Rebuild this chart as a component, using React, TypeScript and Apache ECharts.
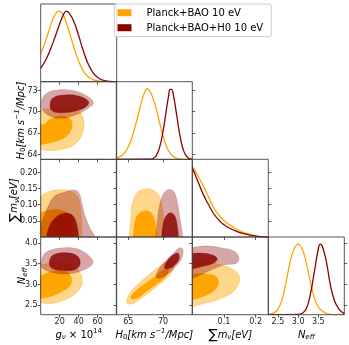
import React, { useEffect, useRef } from 'react';
import * as echarts from 'echarts';

// ---------- axis ranges and ticks ----------
const gRange = [0, 80];
const h0Range = [63.28, 74.2];
const sumRange = [0, 0.24];
const neffRange = [2.26, 4.145];

const gTicks = [20, 40, 60];
const h0TicksX = [65, 70];
const h0TicksY = [64, 67, 70, 73];
const sumTicksX = [0.1, 0.2];
const sumTicksY = [0.05, 0.1, 0.15, 0.2];
const neffTicksX = [2.5, 3.0, 3.5];
const neffTicksY = [2.5, 3.0, 3.5, 4.0];

const legendNames = ['Planck+BAO 10 eV', 'Planck+BAO+H0 10 eV'];

// ---------- 1D marginals (normalised to peak 1) ----------
const gOrange = [[0, 0.40], [5, 0.57], [10, 0.78], [15, 0.95], [19, 1.0], [22, 0.98], [25, 0.91], [30, 0.71], [35, 0.48], [40, 0.29], [45, 0.15], [50, 0.07], [55, 0.03], [60, 0.012], [65, 0.004], [70, 0.001], [80, 0]];
const gDarkred = [[0, 0.19], [5, 0.30], [10, 0.45], [15, 0.63], [20, 0.82], [24, 0.95], [27, 1.0], [30, 0.97], [35, 0.85], [40, 0.65], [45, 0.43], [50, 0.25], [55, 0.13], [60, 0.06], [65, 0.024], [70, 0.008], [75, 0.002], [80, 0]];
const h0Orange = [[63.3, 0.015], [64, 0.05], [64.5, 0.1], [65, 0.18], [65.5, 0.3], [66, 0.47], [66.5, 0.66], [67, 0.85], [67.4, 0.96], [67.7, 1.0], [68, 0.98], [68.5, 0.88], [69, 0.72], [69.5, 0.52], [70, 0.33], [70.5, 0.18], [71, 0.09], [71.5, 0.04], [72, 0.015], [72.5, 0.005], [73, 0.001], [74.2, 0]];
const h0Darkred = [[63.3, 0], [68, 0.002], [68.5, 0.012], [69, 0.05], [69.5, 0.17], [70, 0.4], [70.5, 0.72], [70.8, 0.9], [71.0, 0.99], [71.2, 0.99], [71.5, 0.9], [72, 0.6], [72.5, 0.3], [73, 0.11], [73.5, 0.03], [74, 0.006], [74.2, 0.003]];
const sumOrange = [[0, 1.0], [0.01, 0.93], [0.02, 0.85], [0.035, 0.72], [0.05, 0.58], [0.066, 0.43], [0.08, 0.33], [0.098, 0.24], [0.12, 0.165], [0.14, 0.11], [0.155, 0.078], [0.172, 0.05], [0.19, 0.027], [0.205, 0.013], [0.22, 0.005], [0.24, 0]];
const sumDarkred = [[0, 0.98], [0.01, 0.87], [0.02, 0.76], [0.035, 0.6], [0.05, 0.47], [0.066, 0.34], [0.08, 0.26], [0.098, 0.18], [0.12, 0.12], [0.14, 0.08], [0.155, 0.057], [0.172, 0.036], [0.19, 0.02], [0.205, 0.01], [0.22, 0.004], [0.24, 0]];
const neffOrange = [[2.26, 0.003], [2.4, 0.025], [2.5, 0.08], [2.6, 0.21], [2.7, 0.46], [2.8, 0.74], [2.9, 0.93], [3.0, 1.0], [3.1, 0.93], [3.2, 0.74], [3.3, 0.47], [3.4, 0.24], [3.5, 0.11], [3.6, 0.05], [3.7, 0.02], [3.8, 0.006], [3.9, 0.001], [4.145, 0]];
const neffDarkred = [[2.26, 0], [3.0, 0.003], [3.1, 0.02], [3.2, 0.08], [3.3, 0.28], [3.4, 0.6], [3.5, 0.93], [3.55, 1.0], [3.6, 0.97], [3.7, 0.75], [3.8, 0.42], [3.9, 0.2], [4.0, 0.09], [4.1, 0.03], [4.145, 0.015]];

// ---------- 2D contours (outer = 95%, inner = 68%) ----------
// g vs H0
const gH0OrangeOuter = [[-6, 70.1], [1, 70.25], [15, 70.5], [29, 70.45], [40, 70.1], [45, 68.8], [44, 67.0], [37, 65.5], [26, 64.8], [12, 64.55], [1, 64.65], [-6, 64.8]];
const gH0OrangeInner = [[-6, 68.0], [3, 68.15], [10, 68.9], [18.6, 69.3], [29, 69.15], [33, 68.35], [31, 67.2], [24, 66.25], [13, 65.75], [1, 65.4], [-6, 65.3]];
const gH0RedOuter = [[0.3, 71.0], [2, 71.9], [5.5, 72.5], [13.3, 72.95], [29, 73.05], [43, 72.6], [55.5, 71.3], [48.7, 70.36], [34.5, 69.42], [20.4, 69.06], [8, 69.5], [1.5, 70.3]];
const gH0RedInner = [[9.8, 71.0], [13.3, 71.95], [25.7, 72.33], [39.8, 72.19], [50.4, 71.39], [46.9, 70.6], [36.3, 70.08], [22.2, 69.85], [12.3, 70.08]];
// g vs sum m_nu
const gSumOrangeOuter = [[-6, 0.113], [0, 0.125], [5, 0.135], [12, 0.143], [20, 0.146], [28, 0.144], [35, 0.135], [40, 0.115], [42, 0.08], [43, 0.04], [43.5, 0], [43.5, -0.05], [-6, -0.05]];
const gSumOrangeInner = [[-6, 0.07], [0, 0.075], [8, 0.082], [16, 0.084], [24, 0.08], [30, 0.066], [33, 0.04], [34, 0], [34, -0.05], [-6, -0.05]];
const gSumRedOuter = [[-6, 0.02], [0, 0.04], [4, 0.07], [8, 0.095], [12, 0.118], [17, 0.131], [25, 0.138], [33, 0.145], [38, 0.143], [41, 0.132], [43.4, 0.104], [47, 0.063], [52, 0.027], [57, 0], [57, -0.05], [-6, -0.05]];
const gSumRedInner = [[6.3, 0], [9.8, 0.037], [15.1, 0.058], [22.2, 0.071], [29.2, 0.073], [34.5, 0.063], [38.1, 0.037], [39.8, 0], [39.8, -0.05], [6.3, -0.05]];
// g vs Neff
const gNeffOrangeOuter = [[-6, 3.45], [0, 3.47], [10, 3.5], [27.5, 3.5], [36, 3.42], [42, 3.25], [43.4, 3.1], [42.6, 2.95], [36.3, 2.77], [23.9, 2.61], [9.8, 2.53], [0, 2.55], [-6, 2.57]];
const gNeffOrangeInner = [[-6, 3.17], [0, 3.2], [2.8, 3.23], [13.3, 3.31], [25.7, 3.31], [31.7, 3.18], [31, 2.98], [22.2, 2.82], [9.8, 2.70], [0, 2.66], [-6, 2.65]];
const gNeffRedOuter = [[0.4, 3.55], [5, 3.76], [18.6, 3.87], [36.3, 3.87], [49.3, 3.72], [55, 3.52], [46.9, 3.36], [29.2, 3.25], [13.3, 3.28], [3.5, 3.36], [0.6, 3.44]];
const gNeffRedInner = [[9.1, 3.55], [13.3, 3.71], [27.5, 3.76], [38.7, 3.68], [41.6, 3.52], [37.4, 3.37], [23.9, 3.33], [11.6, 3.39]];
// H0 vs sum m_nu
const h0SumOrangeOuter = [[65.17, 0], [65.37, 0.063], [65.65, 0.109], [66.31, 0.137], [67.42, 0.148], [68.52, 0.145], [69.33, 0.13], [69.81, 0.099], [70.04, 0.053], [70.14, 0], [70.14, -0.05], [65.17, -0.05]];
const h0SumOrangeInner = [[65.74, 0], [65.98, 0.047], [66.46, 0.07], [67.42, 0.081], [68.24, 0.075], [68.75, 0.053], [69.1, 0], [69.1, -0.05], [65.74, -0.05]];
const h0SumRedOuter = [[69.0, 0], [69.18, 0.053], [69.57, 0.104], [70.14, 0.137], [70.9, 0.147], [71.58, 0.14], [72.05, 0.109], [72.44, 0.058], [72.83, 0], [72.83, -0.05], [69.0, -0.05]];
const h0SumRedInner = [[69.81, 0], [70.04, 0.042], [70.43, 0.065], [71.1, 0.075], [71.72, 0.063], [72.05, 0.032], [72.2, 0], [72.2, -0.05], [69.81, -0.05]];
// H0 vs Neff
const h0NeffOrangeOuter = [[64.79, 2.55], [65.27, 2.79], [66.46, 3.01], [67.89, 3.22], [69.33, 3.41], [70.53, 3.55], [71.25, 3.57], [71.48, 3.39], [71.0, 3.23], [69.81, 3.05], [68.38, 2.85], [66.94, 2.67], [65.65, 2.53]];
const h0NeffOrangeInner = [[65.37, 2.66], [65.98, 2.82], [67.17, 2.98], [68.61, 3.15], [69.96, 3.33], [70.76, 3.36], [70.29, 3.17], [69.0, 3.0], [67.56, 2.82], [66.23, 2.66]];
const h0NeffRedOuter = [[69.0, 3.17], [69.33, 3.35], [70.29, 3.55], [71.48, 3.75], [72.44, 3.89], [72.87, 3.83], [72.68, 3.63], [71.72, 3.41], [70.53, 3.23], [69.57, 3.15]];
const h0NeffRedInner = [[70.19, 3.39], [70.62, 3.57], [71.39, 3.70], [72.15, 3.75], [72.3, 3.62], [71.72, 3.47], [70.9, 3.38]];
// sum m_nu vs Neff
const sumNeffOrangeOuter = [[-0.02, 3.55], [0, 3.56], [0.04, 3.55], [0.093, 3.46], [0.13, 3.35], [0.148, 3.19], [0.145, 2.99], [0.124, 2.79], [0.082, 2.63], [0.035, 2.53], [0, 2.46], [-0.02, 2.45]];
const sumNeffOrangeInner = [[-0.02, 3.25], [0, 3.25], [0.04, 3.25], [0.074, 3.19], [0.082, 3.03], [0.069, 2.85], [0.035, 2.71], [0, 2.63], [-0.02, 2.62]];
const sumNeffRedOuter = [[-0.02, 3.89], [0, 3.89], [0.04, 3.93], [0.093, 3.88], [0.133, 3.80], [0.147, 3.65], [0.14, 3.51], [0.103, 3.47], [0.061, 3.35], [0.024, 3.22], [0, 3.15], [-0.02, 3.14]];
const sumNeffRedInner = [[-0.02, 3.75], [0, 3.75], [0.035, 3.75], [0.066, 3.70], [0.079, 3.61], [0.066, 3.51], [0.030, 3.43], [0, 3.37], [-0.02, 3.36]];

// ---------- styling / layout ----------
const FONT = 'DejaVu Sans';
const ORANGE = '#ffa500';
const DARKRED = '#8b0000';
const COL_LEFT = [40.7, 116.3, 192.3, 268.3];
const ROW_TOP = [4, 81.7, 159.3, 237];
const CELL_W = 76;
const CELL_H = 77.7;

type Var = { range: number[]; ticksX: number[]; ticksY: number[]; dx: number; dy: number };
const VARS: Var[] = [
  { range: gRange, ticksX: gTicks, ticksY: [], dx: 0, dy: 0 },
  { range: h0Range, ticksX: h0TicksX, ticksY: h0TicksY, dx: 0, dy: 0 },
  { range: sumRange, ticksX: sumTicksX, ticksY: sumTicksY, dx: 1, dy: 2 },
  { range: neffRange, ticksX: neffTicksX, ticksY: neffTicksY, dx: 1, dy: 1 },
];
const DIAG: any[][] = [
  [gOrange, gDarkred],
  [h0Orange, h0Darkred],
  [sumOrange, sumDarkred],
  [neffOrange, neffDarkred],
];
const PAIRS: Record<string, any[][]> = {
  '1-0': [gH0OrangeOuter, gH0OrangeInner, gH0RedOuter, gH0RedInner],
  '2-0': [gSumOrangeOuter, gSumOrangeInner, gSumRedOuter, gSumRedInner],
  '3-0': [gNeffOrangeOuter, gNeffOrangeInner, gNeffRedOuter, gNeffRedInner],
  '2-1': [h0SumOrangeOuter, h0SumOrangeInner, h0SumRedOuter, h0SumRedInner],
  '3-1': [h0NeffOrangeOuter, h0NeffOrangeInner, h0NeffRedOuter, h0NeffRedInner],
  '3-2': [sumNeffOrangeOuter, sumNeffOrangeInner, sumNeffRedOuter, sumNeffRedInner],
};
const FILLS = [
  { fill: '#ffd78c', stroke: 'rgba(255,165,0,0.55)' },
  { fill: ORANGE, stroke: ORANGE },
  { fill: 'rgba(139,0,0,0.35)', stroke: 'rgba(139,0,0,0.2)' },
  { fill: 'rgba(139,0,0,0.82)', stroke: 'rgba(139,0,0,0.5)' },
];

function axisParts(ticks: number[], showLabels: boolean, digits: number) {
  return {
    z: 10,
    axisLine: { show: false },
    splitLine: { show: false },
    axisTick: { show: ticks.length > 0, inside: false, length: 3, customValues: ticks, lineStyle: { color: '#333', width: 0.8 } },
    axisLabel: {
      show: showLabels,
      customValues: ticks,
      formatter: (v: number) => Number(v).toFixed(digits),
      fontSize: 8,
      fontFamily: FONT,
      color: '#222',
      margin: 3,
    },
  };
}

function polySeries(xi: number, yi: number, pts: number[][], fill: string, stroke: string) {
  return {
    type: 'custom',
    coordinateSystem: 'cartesian2d',
    xAxisIndex: xi,
    yAxisIndex: yi,
    clip: true,
    silent: true,
    z: 2,
    data: pts,
    encode: { x: 0, y: 1 },
    renderItem: (params: any, api: any) => {
      if (params.dataIndex !== 0) return null;
      const points = pts.map((p) => api.coord(p));
      return {
        type: 'polygon',
        shape: { points, smooth: 0.4 },
        style: { fill, stroke, lineWidth: 0.7 },
      };
    },
  };
}

const rich = {
  i: { fontFamily: FONT, fontStyle: 'italic', fontSize: 10, lineHeight: 13, fill: '#000' },
  u: { fontFamily: FONT, fontSize: 10, lineHeight: 13, fill: '#000' },
  is: { fontFamily: FONT, fontStyle: 'italic', fontSize: 7, lineHeight: 8, verticalAlign: 'bottom', fill: '#000' },
  ls: { fontFamily: FONT, fontSize: 7, lineHeight: 8, verticalAlign: 'bottom', fill: '#000' },
  us: { fontFamily: FONT, fontSize: 7, lineHeight: 8, verticalAlign: 'top', fill: '#000' },
  ius: { fontFamily: FONT, fontStyle: 'italic', fontSize: 7, lineHeight: 8, verticalAlign: 'top', fill: '#000' },
  big: { fontFamily: FONT, fontSize: 13.5, lineHeight: 13, fill: '#000' },
};
const TITLES = [
  '{i|g}{is|ν}{u| × 10}{us|14}',
  '{i|H}{ls|0}{i|[km s}{ius|−1}{i|/Mpc]}',
  '{big|∑}{i|m}{is|ν}{i|[eV]}',
  '{i|N}{is|eff}',
];
const YTITLE_X = [0, 20, 13.5, 21.7];

function buildOption() {
  const grid: any[] = [];
  const xAxis: any[] = [];
  const yAxis: any[] = [];
  const series: any[] = [];

  for (let r = 0; r < 4; r++) {
    for (let c = 0; c <= r; c++) {
      const gi = grid.length;
      grid.push({
        left: COL_LEFT[c], top: ROW_TOP[r], width: CELL_W, height: CELL_H,
        show: true, borderColor: '#444', borderWidth: 0.9, backgroundColor: 'transparent', z: 10,
      });
      const cv = VARS[c];
      xAxis.push({
        type: 'value', gridIndex: gi, min: cv.range[0], max: cv.range[1],
        ...axisParts(cv.ticksX, r === 3, cv.dx),
      });
      if (c === r) {
        const densIdx = yAxis.length;
        yAxis.push({ type: 'value', gridIndex: gi, min: 0, max: 1.1, show: false });
        if (r > 0) {
          const rv = VARS[r];
          yAxis.push({ type: 'value', gridIndex: gi, min: rv.range[0], max: rv.range[1], ...axisParts(rv.ticksY, false, rv.dy) });
        }
        const [o, d] = DIAG[r];
        [[o, ORANGE], [d, DARKRED]].forEach(([data, color]: any) => {
          series.push({
            type: 'line', xAxisIndex: gi, yAxisIndex: densIdx, data, showSymbol: false,
            smooth: 0.5, silent: true, z: 3,
            lineStyle: { color, width: 1.3 }, itemStyle: { color },
          });
        });
      } else {
        const rv = VARS[r];
        const yi = yAxis.length;
        yAxis.push({ type: 'value', gridIndex: gi, min: rv.range[0], max: rv.range[1], ...axisParts(rv.ticksY, c === 0, rv.dy) });
        const polys = PAIRS[`${r}-${c}`];
        polys.forEach((pts, k) => series.push(polySeries(gi, yi, pts, FILLS[k].fill, FILLS[k].stroke)));
      }
    }
  }

  const graphic: any[] = [];
  for (let c = 0; c < 4; c++) {
    graphic.push({
      type: 'text', x: COL_LEFT[c] + CELL_W / 2, y: 334, z: 20, silent: true,
      style: { text: TITLES[c], rich, align: 'center', verticalAlign: 'middle' },
    });
  }
  for (let r = 1; r < 4; r++) {
    graphic.push({
      type: 'text', x: YTITLE_X[r], y: ROW_TOP[r] + CELL_H / 2 + (r === 2 ? 2 : 0), rotation: Math.PI / 2, z: 20, silent: true,
      style: { text: TITLES[r], rich, align: 'center', verticalAlign: 'middle' },
    });
  }
  // legend
  graphic.push({
    type: 'rect', z: 30, silent: true,
    shape: { x: 114.3, y: 4, width: 157, height: 32.7, r: 2 },
    style: { fill: 'rgba(255,255,255,0.85)', stroke: '#cccccc', lineWidth: 1 },
  });
  [ORANGE, DARKRED].forEach((color, k) => {
    graphic.push({
      type: 'rect', z: 31, silent: true,
      shape: { x: 117.5, y: 9.2 + k * 15, width: 14, height: 7 },
      style: { fill: color },
    });
    graphic.push({
      type: 'text', z: 31, silent: true, x: 146.5, y: 12.7 + k * 15,
      style: { text: legendNames[k], fontFamily: FONT, fontSize: 10, fill: '#000', align: 'left', verticalAlign: 'middle' },
    });
  });

  return { animation: false, grid, xAxis, yAxis, series, graphic };
}

export default function App() {
  const ref = useRef<HTMLDivElement>(null);
  useEffect(() => {
    const chart = echarts.init(ref.current!, null, { renderer: 'svg' });
    chart.setOption(buildOption() as any);
    return () => chart.dispose();
  }, []);
  return <div ref={ref} style={{ position: 'fixed', left: 0, top: 0, width: 349, height: 345 }} />;
}
